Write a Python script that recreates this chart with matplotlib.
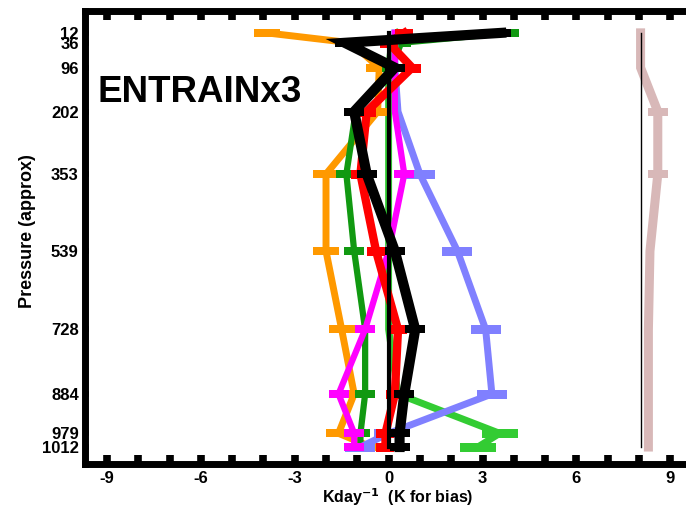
import matplotlib.pyplot as plt
import numpy as np
from matplotlib.path import Path

plt.rcParams['font.family'] = ['Liberation Sans', 'DejaVu Sans']
plt.rcParams['font.weight'] = 'bold'
plt.rcParams['axes.unicode_minus'] = False

levels = [12, 36, 96, 202, 353, 539, 728, 884, 979, 1012]

# heating-rate profiles (K/day), one value per level
orange_v = [-3.9, -1.2, -0.3, -0.35, -2.0, -2.0, -1.5, -1.1, -1.6, -0.55]
dkgreen_v = [3.85, 0.4, 0.1, -1.05, -1.35, -1.1, -0.75, -0.75, -0.9, -0.9]
lime_v = [0.3, 0.1, 0.0, 0.0, 0.0, 0.0, 0.0, 0.3, 3.55, 2.85]
blue_v = [0.2, 0.2, 0.2, 0.3, 1.0, 2.2, 3.1, 3.3, 0.0, -0.9]
magenta_v = [0.2, 0.2, 0.2, 0.2, 0.5, 0.0, -0.75, -1.6, -1.1, -1.1]
red_v = [0.5, 0.0, 0.75, -0.7, -0.9, -0.4, 0.3, 0.2, -0.1, -0.1]
black_v = [3.6, -1.4, 0.2, -1.1, -0.7, 0.2, 0.85, 0.5, 0.35, 0.35]
bias_v = [8.05, 8.05, 8.05, 8.6, 8.6, 8.35, 8.3, 8.3, 8.3, 8.3]
zero_ref = 0.0
bias_ref = 8.05

xticks = [-9, -6, -3, 0, 3, 6, 9]


def bar_marker(w_px, h_px=9):
    # flat rectangle marker, w_px wide, h_px tall
    verts = [(-w_px / 2, -h_px / 2), (w_px / 2, -h_px / 2), (w_px / 2, h_px / 2),
             (-w_px / 2, h_px / 2), (-w_px / 2, -h_px / 2)]
    codes = [Path.MOVETO, Path.LINETO, Path.LINETO, Path.LINETO, Path.CLOSEPOLY]
    return Path(verts, codes)


def profile(ax, vals, color, lw, w_px, every=None):
    ax.plot(vals, levels, color=color, linewidth=lw, solid_joinstyle='miter',
            marker=bar_marker(w_px), markersize=w_px * 0.72, markeredgewidth=0,
            markerfacecolor=color, markevery=every)


fig = plt.figure(figsize=(6.86, 5.07), dpi=100)
ax = fig.add_axes([85 / 686, 43 / 507, 626 / 686, 453.5 / 507])

profile(ax, bias_v, '#D8B8B8', 6.5, 20, every=[3, 4])
ax.plot([bias_ref] * 2, [levels[0], levels[-1]], color='black', linewidth=1.0)
profile(ax, lime_v, '#33CC33', 5.0, 36, every=[8, 9])
profile(ax, orange_v, '#FF9900', 5.0, 27)
profile(ax, dkgreen_v, '#119911', 4.5, 20)
profile(ax, blue_v, '#8080FF', 5.0, 30, every=[4, 5, 6, 7, 8, 9])
profile(ax, magenta_v, '#FF00FF', 4.5, 20, every=[4, 5, 6, 7, 8, 9])
profile(ax, red_v, '#FF0000', 6.0, 18)
ax.plot([zero_ref] * 2, [levels[0], levels[-1]], color='black', linewidth=3.0)
profile(ax, black_v, 'black', 7.3, 20)

ax.set_xlim(-9.7, 10.3)
ax.set_ylim(1053, -42)
ax.set_xticks(xticks)
ax.set_xticks(np.arange(-9, 11, 1), minor=True)
ax.set_yticks(levels)
ax.set_yticklabels([str(p) for p in levels])

for s in ax.spines.values():
    s.set_linewidth(5)
ax.tick_params(axis='x', which='both', direction='in', top=True, bottom=True,
               length=6.5, width=5.5, pad=5, labelsize=12)
ax.tick_params(axis='y', direction='in', length=3, width=4, pad=4.5, labelsize=12)

ax.set_xlabel('Kday$^{\\mathbf{-1}}$  (K for bias)', fontsize=11.5, fontweight='bold', labelpad=0)
ax.set_ylabel('Pressure (approx)', fontsize=13, fontweight='bold')
ax.yaxis.set_label_coords(-0.079, 0.514)

fig.text(97 / 686, 1 - 102 / 507, 'ENTRAINx3', fontsize=26.5, fontweight='bold')

fig.savefig('out.png', dpi=100)
